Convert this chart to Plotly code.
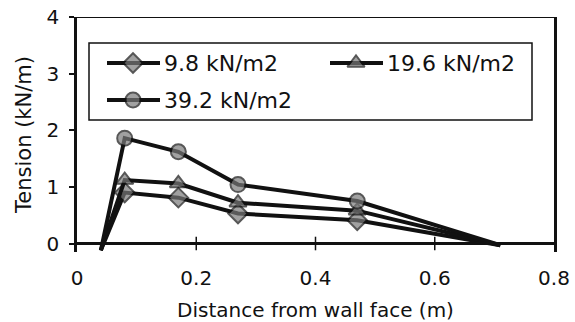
import plotly.graph_objects as go

# Distance from the wall face (m)
distance = [0.04, 0.08, 0.17, 0.27, 0.47, 0.71]

# Tension in the reinforcement (kN/m) for each surcharge
tension_9_8 = [-0.12, 0.90, 0.81, 0.53, 0.41, -0.03]
tension_19_6 = [-0.12, 1.12, 1.06, 0.72, 0.58, -0.03]
tension_39_2 = [-0.12, 1.86, 1.62, 1.04, 0.75, -0.03]

series_names = ["9.8 kN/m2", "19.6 kN/m2", "39.2 kN/m2"]
series_symbols = ["diamond", "triangle-up", "circle"]

x_ticks = [0, 0.2, 0.4, 0.6, 0.8]
y_ticks = [0, 1, 2, 3, 4]

FONT = "DejaVu Sans, Arial, sans-serif"
INK = "#111111"
FILL = "#7a7a7a"

# plot area in pixels (used by the overlay axes that hold the key)
W, H = 575, 322
ML, MR, MT, MB = 77, 21, 17, 70

fig = go.Figure()

ends_hidden = [0, 15, 15, 15, 15, 0]
for name, sym, ys in zip(series_names, series_symbols,
                         [tension_9_8, tension_19_6, tension_39_2]):
    fig.add_trace(go.Scatter(
        x=distance, y=ys, name=name, mode="lines+markers",
        line=dict(color=INK, width=4),
        marker=dict(symbol=sym, size=ends_hidden, color=FILL,
                    line=dict(color=INK, width=2)),
        cliponaxis=False, showlegend=False,
    ))

# key drawn on pixel-scaled overlay axes
key_rows = [(107, 63), (330, 63), (107, 100)]
for (kx, ky), name, sym in zip(key_rows, series_names, series_symbols):
    fig.add_trace(go.Scatter(
        x=[kx, kx + 26, kx + 53], y=[ky, ky, ky], mode="lines+markers",
        xaxis="x2", yaxis="y2", showlegend=False, hoverinfo="skip",
        line=dict(color=INK, width=4),
        marker=dict(symbol=sym, size=[0, 15, 0], color=FILL,
                    line=dict(color=INK, width=2)),
        cliponaxis=False,
    ))
    fig.add_annotation(x=kx + 55, y=ky, xref="x2", yref="y2", text=name,
                       showarrow=False, xanchor="left", yanchor="middle",
                       font=dict(family=FONT, size=22, color=INK))

fig.add_shape(type="rect", xref="x2", yref="y2", x0=89, x1=532, y0=43, y1=120,
              line=dict(color=INK, width=1.5), fillcolor="rgba(0,0,0,0)")

# frame: top edge, and tick marks crossing the zero line
fig.add_shape(type="line", xref="paper", yref="y", x0=-0.015, x1=1, y0=4, y1=4,
              line=dict(color=INK, width=2))
for t in x_ticks[1:-1]:
    fig.add_shape(type="line", xref="x", yref="y", x0=t, x1=t, y0=-0.12, y1=0.12,
                  line=dict(color=INK, width=1.5))

fig.update_layout(
    width=W, height=H,
    margin=dict(l=ML, r=MR, t=MT, b=MB),
    paper_bgcolor="white", plot_bgcolor="white",
    font=dict(family=FONT, size=20, color=INK),
    showlegend=False,
    xaxis=dict(
        range=[0, 0.8], tickvals=x_ticks, ticktext=["0", "0.2", "0.4", "0.6", "0.8"],
        showgrid=False, zeroline=False, showline=False, ticks="",
        ticklabelstandoff=12, automargin=False,
        title=dict(text="Distance from wall face (m)", standoff=19,
                   font=dict(family=FONT, size=20, color=INK)),
        tickfont=dict(family=FONT, size=20, color=INK),
    ),
    yaxis=dict(
        range=[-0.15, 4], tickvals=y_ticks,
        showgrid=False, zeroline=True, zerolinecolor=INK, zerolinewidth=2.5,
        showline=True, linecolor=INK, linewidth=2.5, mirror=True,
        ticks="outside", ticklen=5, tickwidth=1.5, tickcolor=INK,
        ticklabelstandoff=6, automargin=False,
        title=dict(text="Tension (kN/m)", standoff=10,
                   font=dict(family=FONT, size=21, color=INK)),
        tickfont=dict(family=FONT, size=20, color=INK),
    ),
    xaxis2=dict(range=[ML, W - MR], overlaying="x", visible=False, fixedrange=True),
    yaxis2=dict(range=[H - MB, MT], overlaying="y", visible=False, fixedrange=True),
)

fig.write_html("out.html")
